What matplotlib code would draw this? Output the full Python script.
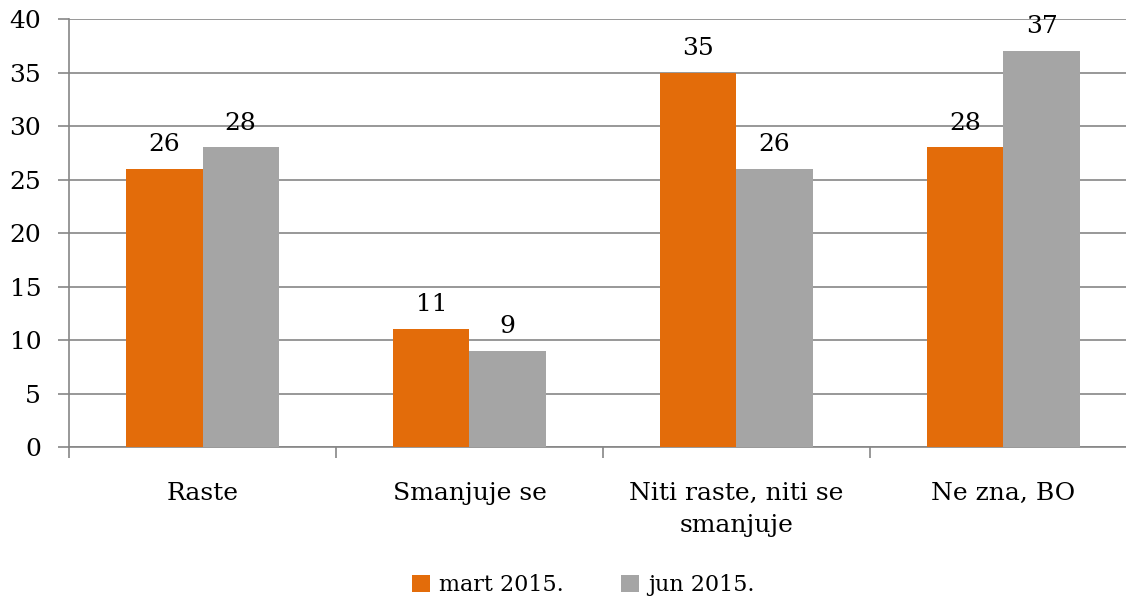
import matplotlib.pyplot as plt
import numpy as np

categories = ['Raste', 'Smanjuje se', 'Niti raste, niti se\nsmanjuje', 'Ne zna, BO']
mart = [26, 11, 35, 28]
jun = [28, 9, 26, 37]
series_names = ['mart 2015.', 'jun 2015.']

plt.rcParams['font.family'] = ['DejaVu Serif']

fig = plt.figure(figsize=(11.26, 6.13), dpi=100)
ax = fig.add_axes([0.0613, 0.2708, 0.9387, 0.6982])

x = np.arange(len(categories))
w = 0.285
b1 = ax.bar(x - w / 2, mart, w, color='#E36C0A', label=series_names[0], zorder=3)
b2 = ax.bar(x + w / 2, jun, w, color='#A5A5A5', label=series_names[1], zorder=3)

for bars in (b1, b2):
    for r in bars:
        ax.text(r.get_x() + r.get_width() / 2, r.get_height() + 1.2, str(int(r.get_height())),
                ha='center', va='bottom', fontsize=18)

ax.set_ylim(0, 40)
ax.set_yticks(range(0, 41, 5))
ax.yaxis.grid(True, color='#868686', linewidth=1.2, zorder=0)
ax.set_xticks(x)
ax.set_xticklabels(categories, fontsize=18, linespacing=1.5)
ax.set_xticks(np.arange(-0.5, 4, 1), minor=True)
ax.set_xlim(-0.5, 3.459)
ax.tick_params(axis='x', which='major', length=0, pad=25)
ax.tick_params(axis='x', which='minor', length=8, color='#868686', width=1.2)
ax.tick_params(axis='y', length=8, color='#868686', width=1.2, labelsize=18, pad=12)
for s in ['top', 'right']:
    ax.spines[s].set_visible(False)
ax.spines['left'].set_color('#868686')
ax.spines['bottom'].set_color('#868686')
ax.spines['left'].set_linewidth(1.2)
ax.spines['bottom'].set_linewidth(1.2)

fig.legend(loc='lower center', bbox_to_anchor=(0.518, -0.005), ncol=2, frameon=False,
           fontsize=16, handlelength=0.8, handleheight=0.8, handletextpad=0.4, columnspacing=2.6)

fig.savefig('out.png', dpi=100)
